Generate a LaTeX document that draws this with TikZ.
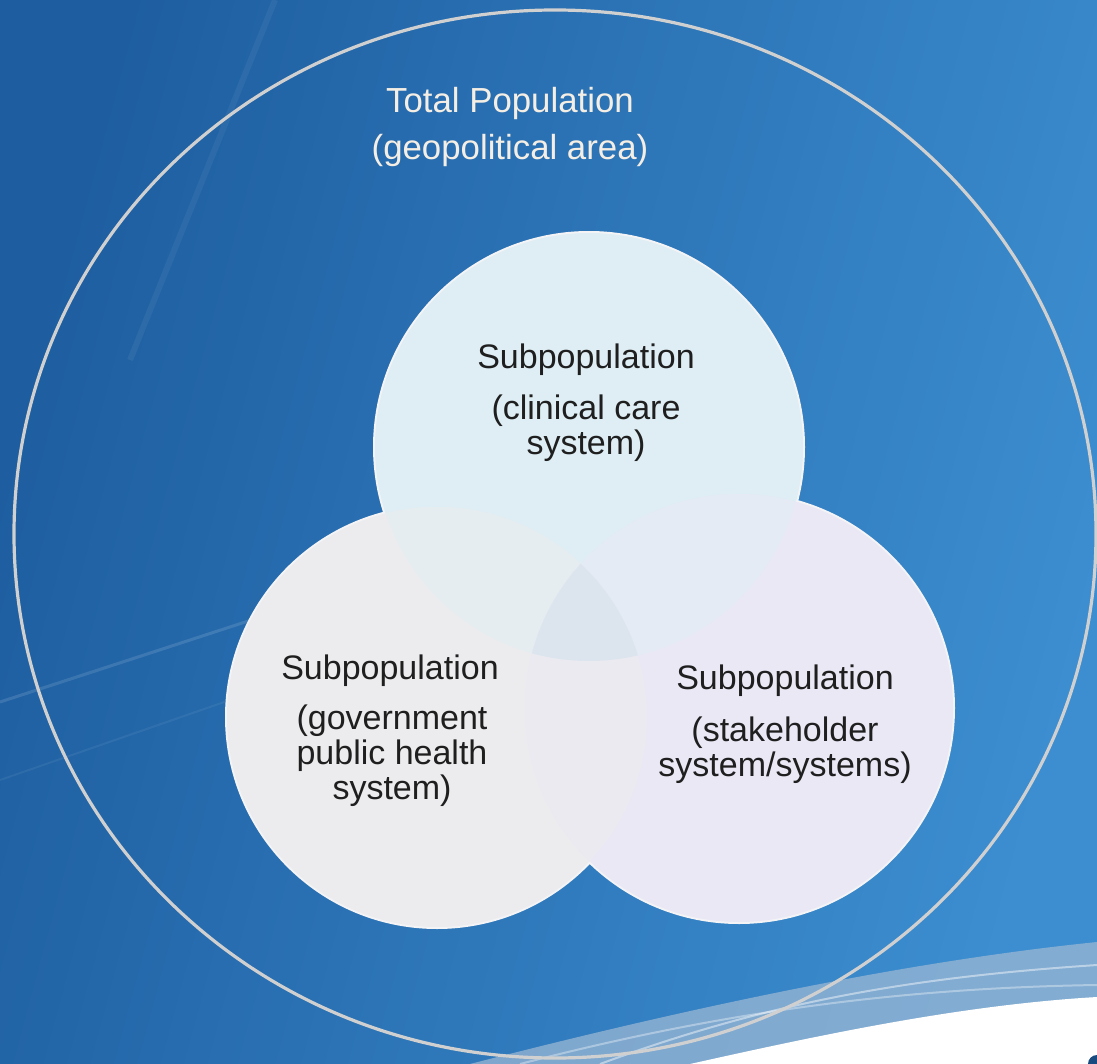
\documentclass[tikz,border=0pt]{standalone}
\usepackage{fontspec}
\setmainfont{Liberation Sans}
\usetikzlibrary{shapes.geometric}
\definecolor{bgdark}{HTML}{1E5EA0}
\definecolor{bglight}{HTML}{3C8ED0}
\definecolor{topfill}{HTML}{DEEEF4}
\definecolor{leftfill}{HTML}{ECECEE}
\definecolor{rightfill}{HTML}{EAE8F5}
\definecolor{ringcol}{HTML}{D0D0D0}
\definecolor{midfill}{HTML}{DCE5EE}
\definecolor{edgecol}{HTML}{F4F4F6}
\definecolor{titlecol}{HTML}{F5EEE4}
\begin{document}
\begin{tikzpicture}[x=0.5pt,y=-0.5pt,
  sub/.style={circle, inner sep=0pt, minimum size=#1},
  lbl/.style={align=center, font=\fontsize{17}{17.5}\selectfont, text=black!88},
  ttl/.style={align=center, font=\fontsize{17.4}{23.5}\selectfont, text=titlecol}]
% background
\shade[left color=bgdark, right color=bglight, shading angle=75] (0,0) rectangle (1097,1064);
\useasboundingbox (0,0) rectangle (1097,1064);
% faint streaks
\draw[white, opacity=0.12, line width=1.5pt] (0,702) -- (420,565);
\draw[white, opacity=0.06, line width=1pt] (0,780) -- (230,700);
\draw[white, opacity=0.05, line width=3pt] (275,0) -- (130,360);
% swoosh bottom right
\fill[white!55!bgdark, opacity=0.75] (470,1064) .. controls (680,1010) and (900,962) .. (1097,942) -- (1097,1064) -- cycle;
\draw[white, opacity=0.45, line width=1pt] (600,1064) .. controls (760,1005) and (900,978) .. (1097,965);
\draw[white, opacity=0.35, line width=1pt] (520,1064) .. controls (720,1012) and (900,988) .. (1097,985);
\fill[white] (690,1064) .. controls (820,1035) and (960,1005) .. (1097,997) -- (1097,1064) -- cycle;
\fill[bgdark!80!black] (1097,1064) circle (9);
% outer ring
\node[draw=ringcol, line width=1.6pt, ellipse, minimum width=1082pt/2, minimum height=1048pt/2, inner sep=0pt] (total) at (555,534) {};
% subpopulation circles: outline halo first, fills on top
\coordinate (tcc) at (589,447);
\coordinate (lcc) at (437,717);
\coordinate (rcc) at (739,708);
\draw[edgecol, line width=2pt] (tcc) circle (214) (lcc) circle (210) (rcc) circle (214);
\node[sub=428pt/2, fill=topfill] (tc) at (tcc) {};
\node[sub=420pt/2, fill=leftfill] (lc) at (lcc) {};
\node[sub=428pt/2, fill=rightfill] (rc) at (rcc) {};
\begin{scope}
  \clip (lcc) circle (210);
  \fill[topfill!45!leftfill] (tcc) circle (214);
\end{scope}
\begin{scope}
  \clip (rcc) circle (214);
  \fill[topfill!45!rightfill] (tcc) circle (214);
  \clip (lcc) circle (210);
  \fill[midfill] (tcc) circle (214);
\end{scope}
\begin{scope}
  \clip (rcc) circle (214);
  \clip (lcc) circle (210);
  \fill[leftfill!50!rightfill] (rcc) circle (214);
  \clip (tcc) circle (214);
  \fill[midfill] (rcc) circle (214);
\end{scope}
% texts
\node[ttl] (tt) at (510,127) {Total Population\\(geopolitical area)};
\node[lbl] (t1) at (586,360) {Subpopulation};
\node[lbl] (t2) at (586,428) {(clinical care\\system)};
\node[lbl] (l1) at (390,671) {Subpopulation};
\node[lbl] (l2) at (392,756) {(government\\public health\\system)};
\node[lbl] (r1) at (785,681) {Subpopulation};
\node[lbl] (r2) at (785,750) {(stakeholder\\system/systems)};
\end{tikzpicture}
\end{document}
